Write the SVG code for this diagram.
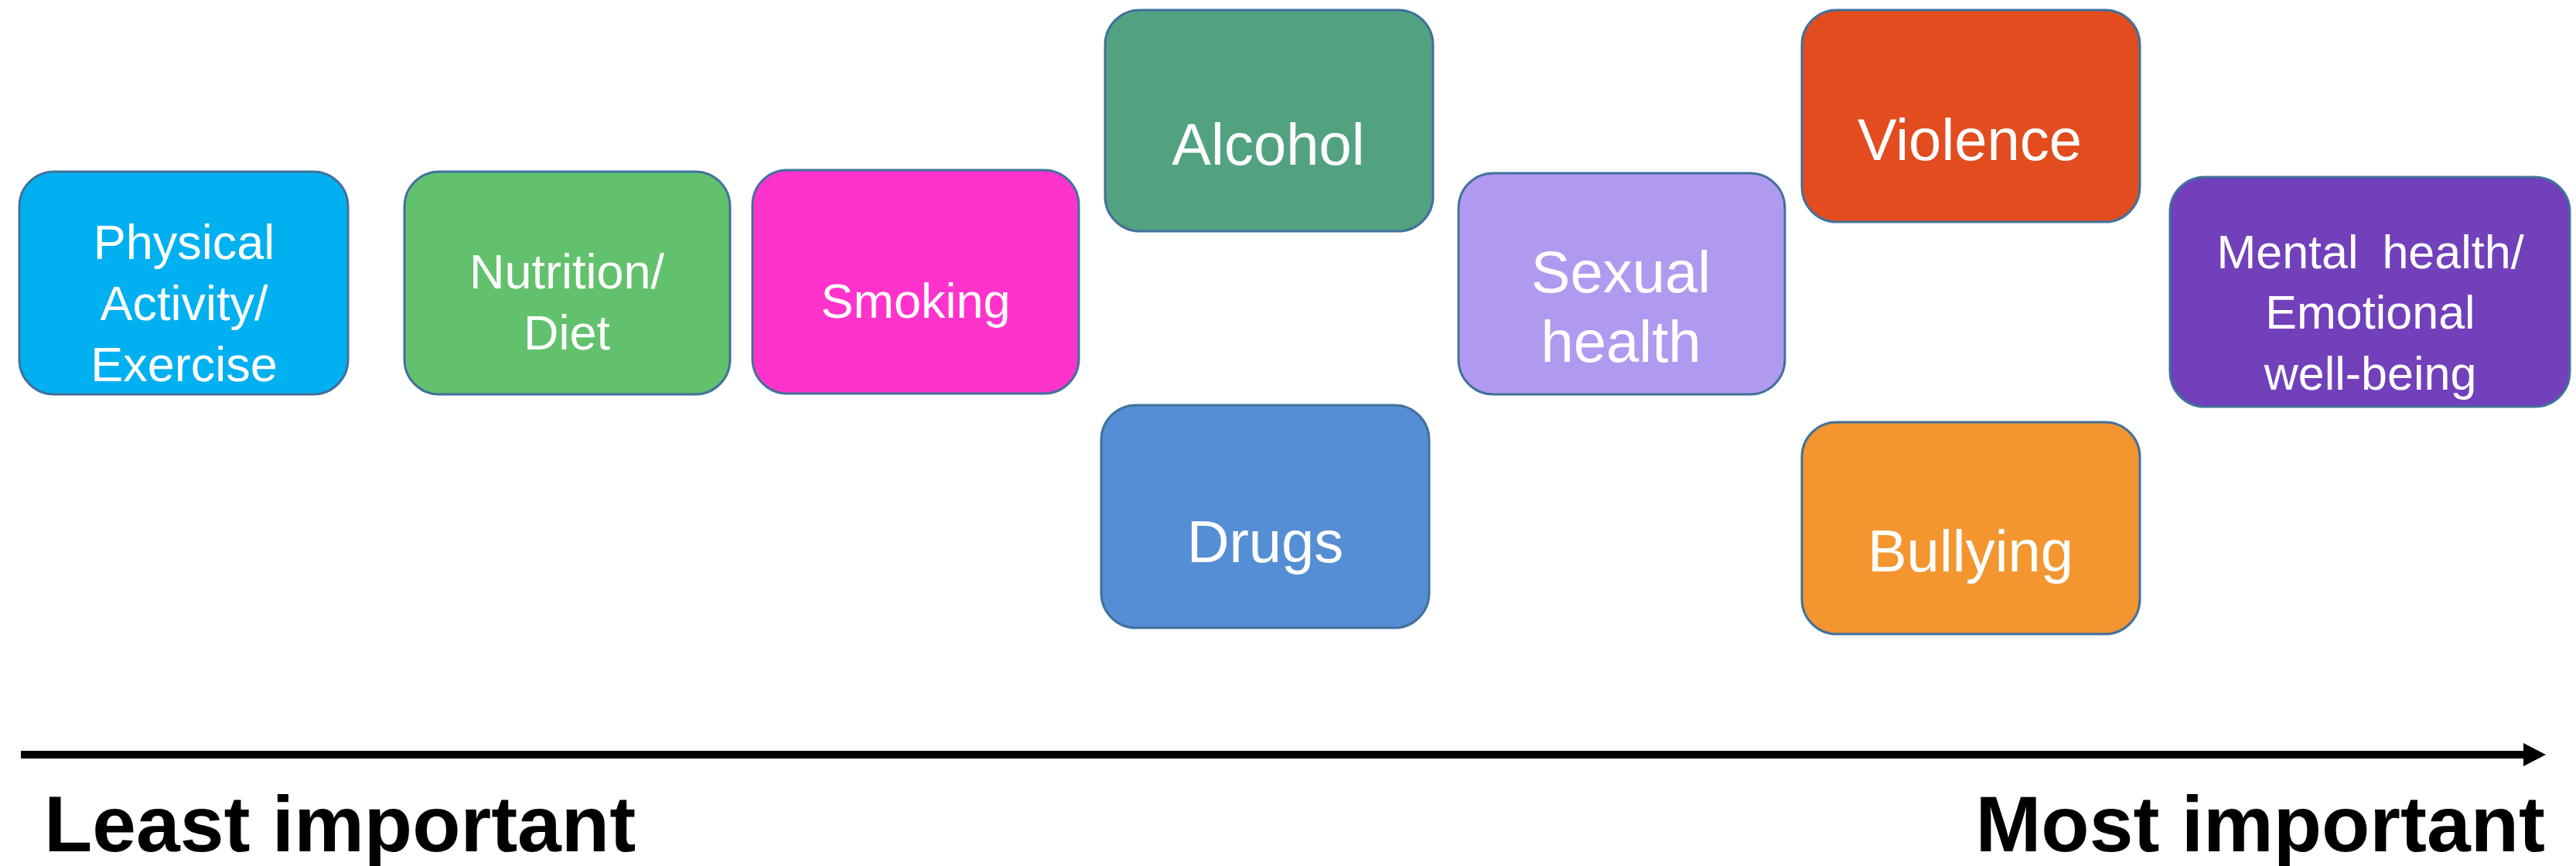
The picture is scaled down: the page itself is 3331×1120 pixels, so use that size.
<svg xmlns="http://www.w3.org/2000/svg" width="3331" height="1120" viewBox="0 0 3331 1120">
<style>
.box{stroke:#41719C;stroke-width:3}
.t{fill:#ffffff;font-family:"Liberation Sans",Arial,sans-serif;text-anchor:middle}
.s{font-size:63px}
.l{font-size:76px}
.axis{font-family:"Liberation Sans",Arial,sans-serif;font-weight:bold;font-size:102px;fill:#000000}
</style>
<defs>
<marker id="ah" markerUnits="userSpaceOnUse" markerWidth="30" markerHeight="32" refX="0" refY="15" orient="auto">
<path d="M0,0 L29,15 L0,30 Z" fill="#000000"/>
</marker>
</defs>
<rect width="3331" height="1120" fill="#ffffff"/>
<g id="physical">
<rect class="box" x="25" y="222" width="425" height="288" rx="45" fill="#00B0F0"/>
<text class="t s" x="238" y="335">Physical</text>
<text class="t s" x="238" y="414">Activity/</text>
<text class="t s" x="238" y="493">Exercise</text>
</g>
<g id="nutrition">
<rect class="box" x="523" y="222" width="421" height="288" rx="45" fill="#62C16D"/>
<text class="t s" x="733" y="373">Nutrition/</text>
<text class="t s" x="733" y="452">Diet</text>
</g>
<g id="smoking">
<rect class="box" x="973" y="220" width="422" height="289" rx="45" fill="#FF33CC"/>
<text class="t s" x="1184" y="411">Smoking</text>
</g>
<g id="alcohol">
<rect class="box" x="1429" y="13" width="424" height="286" rx="45" fill="#52A281"/>
<text class="t l" x="1640" y="213">Alcohol</text>
</g>
<g id="drugs">
<rect class="box" x="1424" y="524" width="424" height="288" rx="45" fill="#558ED5"/>
<text class="t l" x="1636" y="727">Drugs</text>
</g>
<g id="sexual">
<rect class="box" x="1886" y="224" width="422" height="286" rx="45" fill="#B09AEF"/>
<text class="t l" x="2096" y="378">Sexual</text>
<text class="t l" x="2096" y="468">health</text>
</g>
<g id="violence">
<rect class="box" x="2330" y="13" width="437" height="274" rx="45" fill="#E24C1E"/>
<text class="t l" x="2547" y="207">Violence</text>
</g>
<g id="bullying">
<rect class="box" x="2330" y="546" width="437" height="274" rx="45" fill="#F39630"/>
<text class="t l" x="2548" y="739">Bullying</text>
</g>
<g id="mental">
<rect class="box" x="2806" y="229" width="517" height="297" rx="45" fill="#7140BA"/>
<text class="t s" x="3065" y="347" style="font-size:61px;word-spacing:14px">Mental health/</text>
<text class="t s" x="3065" y="425" style="font-size:61px">Emotional</text>
<text class="t s" x="3065" y="504" style="font-size:61px">well-being</text>
</g>
<g id="connectors">
<line x1="27" y1="976" x2="3263" y2="976" stroke="#000000" stroke-width="10" marker-end="url(#ah)"/>
</g>
<g id="labels">
<text class="axis" x="57" y="1101">Least important</text>
<text class="axis" x="3291" y="1101" text-anchor="end">Most important</text>
</g>
</svg>
